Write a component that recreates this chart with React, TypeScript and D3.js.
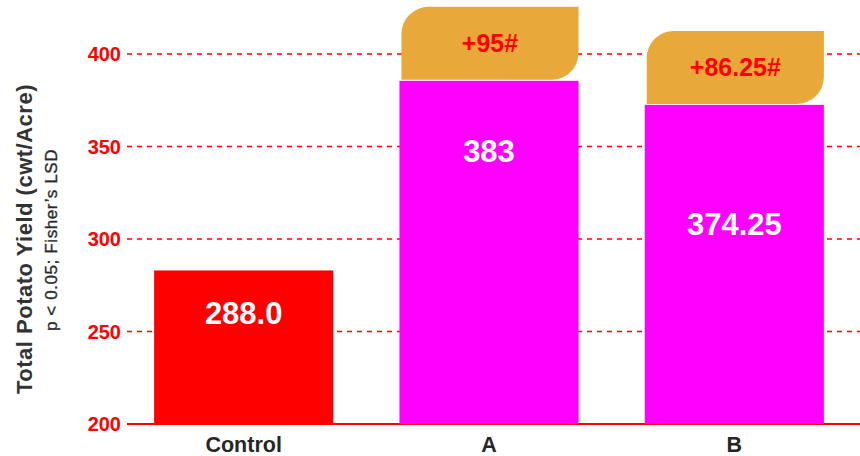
import React from "react";
import * as d3 from "d3";

const categories = ["Control", "A", "B"];
const barValues = [283, 385.5, 372.5];
const valueLabels = ["288.0", "383", "374.25"];
const increaseLabels = ["", "+95#", "+86.25#"];
const barColors = ["#FF0000", "#FF00FF", "#FF00FF"];
const yTicks = [200, 250, 300, 350, 400];

const W = 860;
const H = 456;
const labelOffsets = [42, 70, 119];
const boxHeight = 73;
const FONT = "Arial, 'Liberation Sans', Helvetica, sans-serif";

export default function App() {
  const x = d3.scaleBand<string>().domain(categories).range([121, 857]).paddingInner(0.27).paddingOuter(0.135);
  const y = d3.scaleLinear().domain([200, 400]).range([424, 54]);
  const bw = x.bandwidth();
  const r = 27;
  const boxPath = (x0: number, y0: number, w: number, h: number) =>
    `M${x0},${y0 + h} L${x0},${y0 + r} A${r},${r} 0 0 1 ${x0 + r},${y0} L${x0 + w},${y0} L${x0 + w},${y0 + h - r} A${r},${r} 0 0 1 ${x0 + w - r},${y0 + h} Z`;
  return (
    <svg width={W} height={H} style={{ position: "absolute", left: 0, top: 0, background: "#fff" }} fontFamily={FONT}>
      {yTicks.map((t) => (
        <g key={t}>
          <line x1={127} x2={860} y1={y(t)} y2={y(t)} stroke="#FF0000" strokeWidth={t === 200 ? 2 : 1.5} strokeDasharray={t === 200 ? undefined : "5,5"} />
          <text x={121} y={y(t)} dy="0.36em" textAnchor="end" fill="#FF0000" fontWeight="bold" fontSize={20}>{t}</text>
        </g>
      ))}
      {categories.map((c, i) => {
        const x0 = x(c)!;
        const top = y(barValues[i]);
        return (
          <g key={c}>
            <rect x={x0} y={top} width={bw} height={y(200) - top} fill={barColors[i]} />
            <text x={x0 + bw / 2} y={top + labelOffsets[i]} dy="0.36em" textAnchor="middle" fill="#fff" fontWeight="bold" fontSize={31}>{valueLabels[i]}</text>
            {increaseLabels[i] && (
              <g>
                <path d={boxPath(x0 + 2, top - 1 - boxHeight, bw - 2, boxHeight)} fill="#E9A83A" />
                <text x={x0 + bw / 2 + 1} y={top - 1 - boxHeight / 2} dy="0.36em" textAnchor="middle" fill="#FF0000" fontWeight="bold" fontSize={25}>{increaseLabels[i]}</text>
              </g>
            )}
            <text x={x0 + bw / 2} y={452} textAnchor="middle" fill="#262626" fontWeight="bold" fontSize={21.5}>{c}</text>
          </g>
        );
      })}
      <text transform={`translate(32,239) rotate(-90)`} textAnchor="middle" fill="#333" fontWeight="bold" fontSize={22} letterSpacing={0.5}>Total Potato Yield (cwt/Acre)</text>
      <text transform={`translate(57,240) rotate(-90)`} textAnchor="middle" fill="#2a2a2a" stroke="#2a2a2a" strokeWidth={0.35} fontSize={17} letterSpacing={0.6}>p &lt; 0.05; Fisher’s LSD</text>
    </svg>
  );
}
